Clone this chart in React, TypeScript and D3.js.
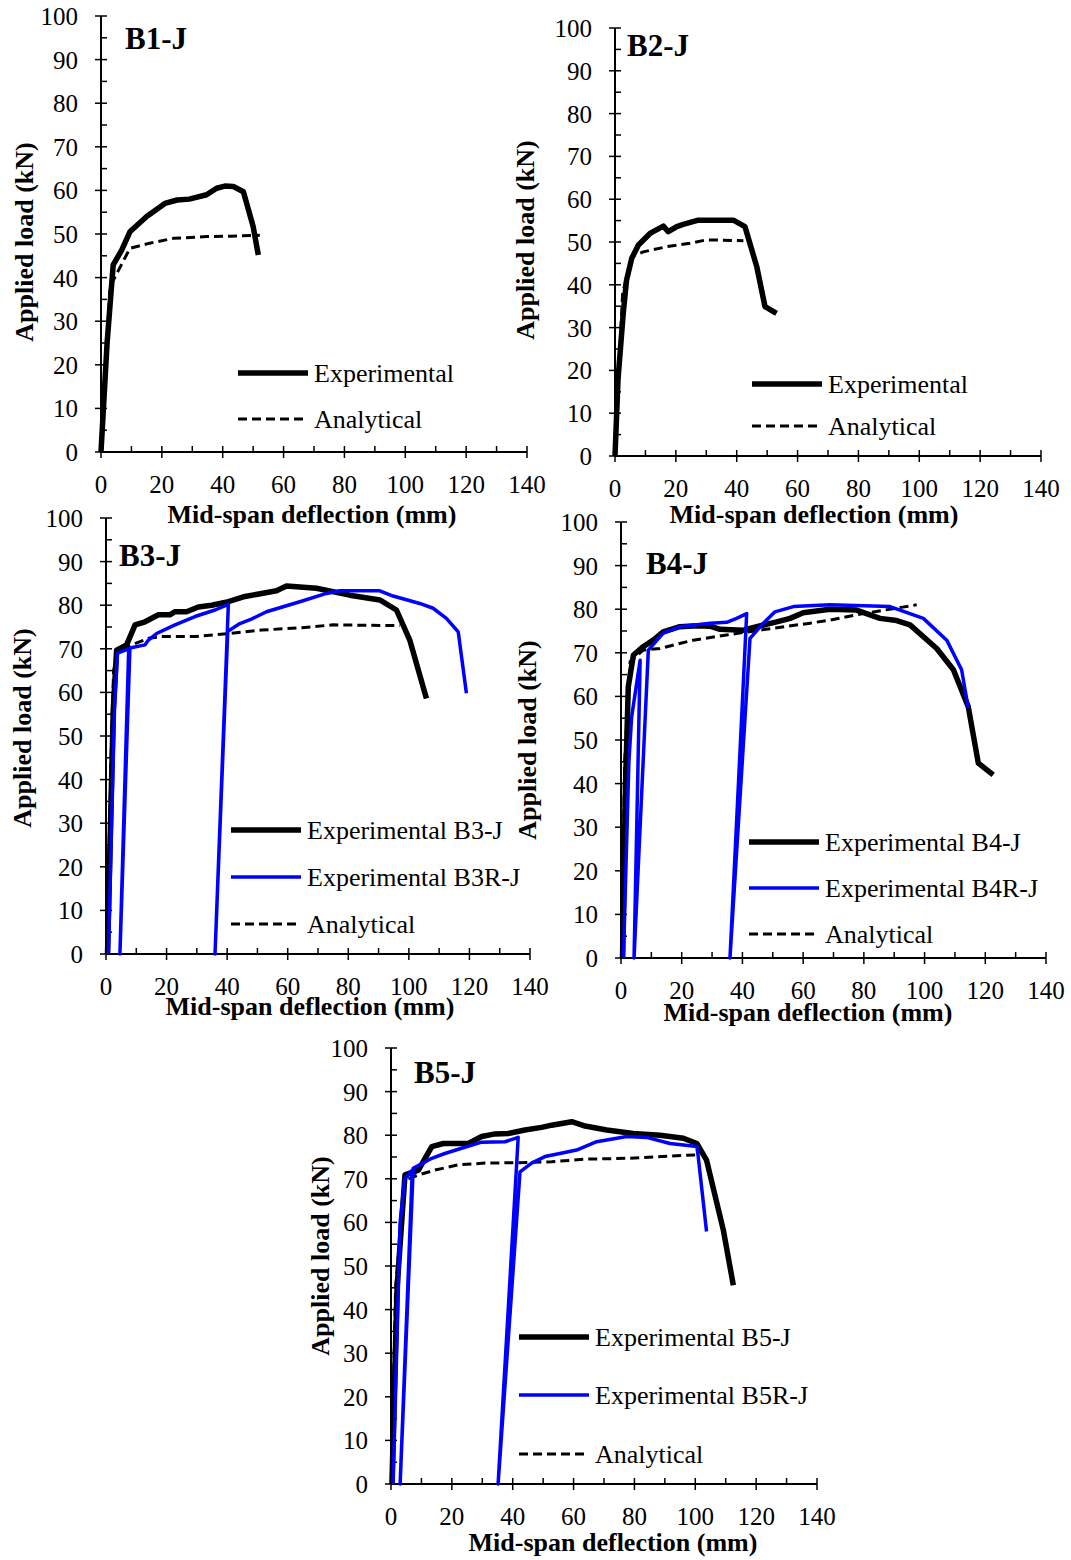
import React from "react";
import * as d3 from "d3";

type Pt = [number, number];

// ---------- DATA ----------
const xTicks = [0, 20, 40, 60, 80, 100, 120, 140];
const yTicks = [0, 10, 20, 30, 40, 50, 60, 70, 80, 90, 100];

const b1Exp: Pt[] = [[0, 0], [2, 25], [4, 42.9], [6.8, 46.3], [9.5, 50.5], [15, 54], [21, 57], [25, 57.8], [29, 58], [34.7, 59], [38, 60.5], [40.7, 61], [43.5, 60.9], [46.8, 59.7], [50, 51.7], [51.7, 45.2]];
const b1Ana: Pt[] = [[0, 0], [3, 38], [9.5, 46.7], [16, 47.9], [23.8, 49], [34.7, 49.4], [42.4, 49.5], [52.2, 49.7]];

const b2Exp: Pt[] = [[0, 0], [1, 18], [2.7, 33.3], [3.8, 41.1], [5.5, 46.2], [7.7, 49.3], [11.5, 52], [15.9, 53.7], [17.5, 52.4], [20.3, 53.6], [22.4, 54.1], [27.4, 55.1], [38.9, 55.1], [42.7, 53.6], [46.6, 44.2], [49.3, 34.9], [53.1, 33.3]];
const b2Ana: Pt[] = [[0, 0], [2.5, 38], [5.5, 46.6], [9.3, 47.7], [17, 48.9], [24.6, 49.7], [30.1, 50.5], [42.2, 50.3]];

const b3Exp: Pt[] = [[0.5, 0], [1.5, 30], [2.4, 56], [3.5, 69.7], [6.8, 70.9], [9.6, 75.5], [12.9, 76.2], [17.3, 77.8], [21.1, 77.8], [22.8, 78.5], [26.6, 78.5], [30.5, 79.6], [34.9, 80], [40.4, 80.8], [45.9, 82], [51.4, 82.7], [56.3, 83.3], [59.6, 84.4], [69.5, 83.9], [80.5, 82.3], [90.4, 81.2], [95.9, 78.9], [100.3, 72], [105.8, 58.6]];
const b3R: Pt[] = [[0.8, 0], [2.8, 56], [3.8, 69], [7.5, 70], [4.6, 0], [7.9, 70.2], [12.9, 70.9], [14, 72], [16.7, 73.5], [22.8, 75.5], [29.4, 77.4], [36, 78.9], [40.4, 80.2], [36, 0], [40.2, 74], [44.2, 75.8], [48, 76.8], [53, 78.5], [64, 80.8], [72.8, 82.7], [77.2, 83.3], [90.4, 83.3], [94.8, 82.1], [103.6, 80.4], [108, 79.3], [112.4, 77], [116.3, 73.9], [119, 59.8]];
const b3Ana: Pt[] = [[0.3, 0], [1.5, 40], [2.5, 65], [4, 69.5], [8.5, 70.9], [14, 72.4], [18.4, 72.8], [29.4, 72.8], [40.4, 73.5], [51.4, 74.3], [64, 74.8], [75, 75.5], [97, 75.3]];

const b4Exp: Pt[] = [[0.5, 0], [1.5, 40], [2.4, 62.2], [4.1, 69.5], [7.3, 71.4], [10.6, 72.9], [13.9, 74.8], [19.4, 76], [24.9, 76.2], [29.3, 76.1], [32.6, 75.4], [40.3, 75.2], [44.7, 76], [51.3, 77.1], [55.7, 77.9], [60, 79.2], [68.8, 80], [77.6, 79.8], [85.3, 77.9], [90.8, 77.4], [95.2, 76.4], [104, 71], [109.5, 66.1], [114.4, 57.6], [117.7, 44.7], [122.6, 42]];
const b4R: Pt[] = [[0.8, 0], [2.6, 45], [3.5, 55.3], [6.3, 68.3], [4.3, 0], [9, 70.6], [13.9, 74.5], [19.4, 76], [29.3, 76.8], [34.8, 77], [38.1, 77.9], [41.4, 79], [35.9, 0], [42.5, 73.3], [46.9, 76.8], [50.7, 79.4], [56.8, 80.6], [68.8, 81], [88.6, 80.6], [91.9, 79.8], [99.6, 77.9], [107.3, 72.9], [112.2, 66.1], [114.4, 57.3]];
const b4Ana: Pt[] = [[0.3, 0], [1.2, 45], [3, 68], [7.3, 70.6], [12.8, 71], [23.8, 72.9], [34.8, 74.1], [45.8, 75.2], [62.3, 76.8], [68.8, 77.5], [79.8, 79], [97.4, 81]];

const b5Exp: Pt[] = [[0.3, 0], [2, 45], [4.6, 70.9], [9, 72], [13.4, 77.4], [17.2, 78.1], [25.4, 78.1], [29.8, 79.7], [34.2, 80.3], [38.5, 80.4], [44, 81.2], [49.5, 81.8], [52.8, 82.3], [59.4, 83.1], [63.8, 82.1], [70.9, 81.2], [79.6, 80.4], [88.4, 80], [96.1, 79.3], [100.5, 78.1], [103.7, 74.3], [109.2, 58.3], [112.5, 45.6]];
const b5R: Pt[] = [[0.7, 0], [3, 60], [4.5, 70], [7, 72], [3, 0], [7.3, 72.4], [13.4, 74.7], [17.7, 75.8], [23.2, 77], [29.8, 78.4], [37.5, 78.5], [41.8, 79.5], [35.2, 0], [42.4, 71.6], [46.2, 73.6], [50.6, 75.1], [55.5, 75.8], [61, 76.6], [67.6, 78.5], [77.5, 79.7], [84, 79.5], [91.7, 78.1], [100.5, 77.4], [100.9, 75.5], [103.7, 57.9]];
const b5Ana: Pt[] = [[0.2, 0], [1.5, 45], [4.6, 69.7], [9, 70.9], [14.5, 72], [22.1, 73.2], [30.9, 73.6], [41.8, 73.7], [52.8, 73.9], [63.8, 74.5], [77.5, 74.7], [100.5, 75.5]];

const panelNames = ["B1-J", "B2-J", "B3-J", "B4-J", "B5-J"];
const legendB1 = ["Experimental", "Analytical"];
const legendB3 = ["Experimental B3-J", "Experimental B3R-J", "Analytical"];
const legendB4 = ["Experimental B4-J", "Experimental B4R-J", "Analytical"];
const legendB5 = ["Experimental B5-J", "Experimental B5R-J", "Analytical"];

// ---------- STYLES / LAYOUT ----------
const FONT = "'Liberation Serif', 'Times New Roman', serif";
const FS = 26;
const styleExp = { stroke: "#000", width: 5.5, dash: "" };
const styleRep = { stroke: "#0000ff", width: 3.5, dash: "" };
const styleAna = { stroke: "#000", width: 3, dash: "9,5" };

type Series = { data: Pt[]; style: { stroke: string; width: number; dash: string } };
type Layout = {
  x0: number; x1: number; yTop: number; yBot: number;
  titleX: number; titleY: number;
  xTitleX: number; xTitleY: number;
  yTitleX: number; yTitleY: number;
  legX: number; legY: number[];
};

const layouts: Layout[] = [
  { x0: 101, x1: 527, yTop: 16, yBot: 452, titleX: 125, titleY: 49, xTitleX: 312, xTitleY: 523, yTitleX: 33, yTitleY: 242, legX: 238, legY: [373, 419] },
  { x0: 615, x1: 1041, yTop: 28, yBot: 456, titleX: 627, titleY: 56, xTitleX: 814, xTitleY: 523, yTitleX: 534, yTitleY: 240, legX: 752, legY: [384, 426] },
  { x0: 106, x1: 530, yTop: 518, yBot: 954, titleX: 119, titleY: 566, xTitleX: 310, xTitleY: 1015, yTitleX: 31, yTitleY: 728, legX: 231, legY: [830, 877, 924] },
  { x0: 621, x1: 1046, yTop: 522, yBot: 958, titleX: 646, titleY: 574, xTitleX: 808, xTitleY: 1021, yTitleX: 536, yTitleY: 740, legX: 749, legY: [842, 888, 934] },
  { x0: 391, x1: 817, yTop: 1048, yBot: 1484, titleX: 414, titleY: 1083, xTitleX: 613, xTitleY: 1551, yTitleX: 329, yTitleY: 1256, legX: 519, legY: [1337, 1395, 1454] },
];

const panelSeries: Series[][] = [
  [{ data: b1Ana, style: styleAna }, { data: b1Exp, style: styleExp }],
  [{ data: b2Ana, style: styleAna }, { data: b2Exp, style: styleExp }],
  [{ data: b3Ana, style: styleAna }, { data: b3Exp, style: styleExp }, { data: b3R, style: styleRep }],
  [{ data: b4Ana, style: styleAna }, { data: b4Exp, style: styleExp }, { data: b4R, style: styleRep }],
  [{ data: b5Ana, style: styleAna }, { data: b5Exp, style: styleExp }, { data: b5R, style: styleRep }],
];

const panelLegends = [
  { labels: legendB1, styles: [styleExp, styleAna] },
  { labels: legendB1, styles: [styleExp, styleAna] },
  { labels: legendB3, styles: [styleExp, styleRep, styleAna] },
  { labels: legendB4, styles: [styleExp, styleRep, styleAna] },
  { labels: legendB5, styles: [styleExp, styleRep, styleAna] },
];

function Panel({ idx }: { idx: number }) {
  const L = layouts[idx];
  const x = d3.scaleLinear().domain([0, 140]).range([L.x0, L.x1]);
  const y = d3.scaleLinear().domain([0, 100]).range([L.yBot, L.yTop]);
  const line = d3.line<Pt>().x((d) => x(d[0])).y((d) => y(d[1]));
  const xMinor = d3.range(10, 140, 20);
  const yMinor = d3.range(5, 100, 10);
  const leg = panelLegends[idx];
  return (
    <g>
      <line x1={L.x0} x2={L.x1} y1={L.yBot} y2={L.yBot} stroke="#000" strokeWidth={2} />
      <line x1={L.x0} x2={L.x0} y1={L.yBot} y2={L.yTop} stroke="#000" strokeWidth={2} />
      {xTicks.map((t) => (
        <g key={"xt" + t}>
          <line x1={x(t)} x2={x(t)} y1={L.yBot - 6} y2={L.yBot + 6} stroke="#000" strokeWidth={1.5} />
          <text x={x(t)} y={L.yBot + 41} textAnchor="middle" fontFamily={FONT} fontSize={FS - 1}>{t}</text>
        </g>
      ))}
      {xMinor.map((t) => (
        <line key={"xm" + t} x1={x(t)} x2={x(t)} y1={L.yBot - 6} y2={L.yBot} stroke="#000" strokeWidth={1.5} />
      ))}
      {yTicks.map((t) => (
        <g key={"yt" + t}>
          <line x1={L.x0 - 6} x2={L.x0 + 6} y1={y(t)} y2={y(t)} stroke="#000" strokeWidth={1.5} />
          <text x={L.x0 - 23} y={y(t) + 9} textAnchor="end" fontFamily={FONT} fontSize={FS - 1}>{t}</text>
        </g>
      ))}
      {yMinor.map((t) => (
        <line key={"ym" + t} x1={L.x0} x2={L.x0 + 6} y1={y(t)} y2={y(t)} stroke="#000" strokeWidth={1.5} />
      ))}
      {panelSeries[idx].map((s, i) => (
        <path key={"s" + i} d={line(s.data) || ""} fill="none" stroke={s.style.stroke} strokeWidth={s.style.width}
          strokeDasharray={s.style.dash || undefined} strokeLinejoin="round" />
      ))}
      <text x={L.titleX} y={L.titleY} fontFamily={FONT} fontSize={31} fontWeight="bold">{panelNames[idx]}</text>
      <text x={L.xTitleX} y={L.xTitleY} textAnchor="middle" fontFamily={FONT} fontSize={FS} fontWeight="bold">Mid-span deflection (mm)</text>
      <text transform={`translate(${L.yTitleX},${L.yTitleY}) rotate(-90)`} textAnchor="middle" fontFamily={FONT} fontSize={FS} fontWeight="bold">Applied load (kN)</text>
      {leg.labels.map((lab, i) => (
        <g key={"l" + i}>
          <line x1={L.legX} x2={L.legX + 70} y1={L.legY[i]} y2={L.legY[i]} stroke={leg.styles[i].stroke}
            strokeWidth={leg.styles[i].width} strokeDasharray={leg.styles[i].dash || undefined} />
          <text x={L.legX + 76} y={L.legY[i] + 9} fontFamily={FONT} fontSize={FS}>{lab}</text>
        </g>
      ))}
    </g>
  );
}

export default function App() {
  return (
    <svg width={1071} height={1560} style={{ position: "absolute", left: 0, top: 0, background: "#fff" }}>
      <rect width={1071} height={1560} fill="#fff" />
      {layouts.map((_, i) => <Panel key={i} idx={i} />)}
    </svg>
  );
}
